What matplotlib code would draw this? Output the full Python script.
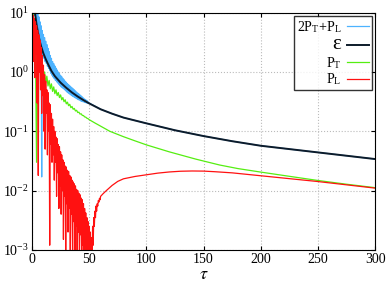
import matplotlib
matplotlib.use("Agg")
import matplotlib.pyplot as plt

# --- data (log-scale values) ---

# energy density, smooth
tau_eps = [2.5, 3, 4, 5, 6, 7, 8, 10, 12, 14, 17, 20, 25, 30, 35, 40, 45, 50, 60, 70,
           80, 100, 125, 150, 175, 200, 250, 300]
eps = [10.5, 8.7, 6.3, 4.9, 3.9, 3.2, 2.7, 2.05, 1.65, 1.36, 1.04, 0.85, 0.66, 0.54, 0.45,
       0.385, 0.335, 0.295, 0.235, 0.198, 0.17, 0.136, 0.104, 0.083, 0.068, 0.057, 0.044, 0.034]

# 2PT+PL, oscillating early times, tau = 0, 0.5, 1, ... 50
tau_sum_osc = [i * 0.5 for i in range(101)]
sum_osc = [12, 12, 12, 12, 12, 9.0, 12, 6.0, 11, 4.5,          # 0 - 4.5
           9.5, 3.5, 8.5, 3.0, 7.0, 2.5, 6.0, 0.017, 5.0, 2.0,  # 5 - 9.5
           4.3, 1.7, 3.8, 1.5, 3.3, 1.4, 2.9, 1.25, 2.5, 1.15,  # 10 - 14.5
           2.2, 1.05, 1.9, 0.95, 1.7, 0.88, 1.5, 0.82, 1.38, 0.77,  # 15 - 19.5
           1.26, 0.72, 1.16, 0.68, 1.08, 0.65, 1.0, 0.62, 0.94, 0.59,  # 20 - 24.5
           0.88, 0.56, 0.83, 0.54, 0.78, 0.52, 0.74, 0.50, 0.70, 0.48,  # 25 - 29.5
           0.67, 0.46, 0.64, 0.445, 0.61, 0.43, 0.585, 0.415, 0.56, 0.40,  # 30 - 34.5
           0.54, 0.39, 0.52, 0.38, 0.50, 0.37, 0.48, 0.36, 0.46, 0.35,  # 35 - 39.5
           0.44, 0.34, 0.425, 0.335, 0.41, 0.325, 0.395, 0.32, 0.38, 0.315,  # 40 - 44.5
           0.365, 0.31, 0.35, 0.305, 0.34, 0.30, 0.33, 0.297, 0.315, 0.294,  # 45 - 49.5
           0.30]

# transverse pressure, tau = 0, 1, 2, ... 50
tau_pt_osc = list(range(0, 51))
pt_osc = [12, 10, 6, 2.5, 0.03, 2.2, 1.0, 1.6, 0.9, 1.2,
          0.75, 1.0, 0.65, 0.85, 0.58, 0.72, 0.52, 0.63, 0.47, 0.56,
          0.43, 0.50, 0.40, 0.45, 0.37, 0.41, 0.34, 0.37, 0.315, 0.34,
          0.29, 0.31, 0.27, 0.285, 0.25, 0.262, 0.235, 0.243, 0.22, 0.226,
          0.207, 0.21, 0.195, 0.197, 0.185, 0.184, 0.175, 0.173, 0.166, 0.163,
          0.157]

# longitudinal pressure, tau = 0, 0.5, 1, ... 60
tau_pl_osc = [i * 0.5 for i in range(121)]
pl_osc = [10, 3.0, 9.0, 1.5, 8.0, 0.8, 7.0, 2.0, 6.0, 0.3,          # 0 - 4.5
          5.0, 0.018, 4.2, 1.0, 3.4, 0.5, 2.6, 0.2, 1.9, 0.4,        # 5 - 9.5
          1.3, 0.1, 0.9, 0.05, 0.7, 0.2, 0.5, 0.04, 0.45, 0.1,       # 10 - 14.5
          0.3, 0.0012, 0.28, 0.06, 0.2, 0.03, 0.16, 0.04, 0.12, 0.015,  # 15 - 19.5
          0.1, 0.03, 0.08, 0.008, 0.075, 0.02, 0.06, 0.005, 0.055, 0.012,  # 20 - 24.5
          0.045, 0.004, 0.04, 0.01, 0.033, 0.0015, 0.03, 0.008, 0.026, 0.0008,  # 25 - 29.5
          0.025, 0.006, 0.022, 0.002, 0.021, 0.005, 0.018, 0.0008, 0.017, 0.004,  # 30 - 34.5
          0.015, 0.0007, 0.014, 0.003, 0.013, 0.0009, 0.012, 0.0025, 0.0105, 0.0006,  # 35 - 39.5
          0.01, 0.002, 0.009, 0.0005, 0.0085, 0.0018, 0.0075, 0.0007, 0.007, 0.0012,  # 40 - 44.5
          0.006, 0.0005, 0.005, 0.001, 0.0042, 0.0004, 0.0035, 0.0008, 0.003, 0.0004,  # 45 - 49.5
          0.0025, 0.0006, 0.002, 0.0004, 0.0016, 0.0008, 0.0025, 0.0012, 0.0035, 0.0025,  # 50 - 54.5
          0.0045, 0.0035, 0.0055, 0.0045, 0.006, 0.0055, 0.0068, 0.0064, 0.0074, 0.007,  # 55 - 59.5
          0.008]

# late times, smooth
tau_pt_late = [55, 60, 68, 80, 90, 100, 120, 143, 164, 180, 200, 225, 250, 275, 300]
pt_late = [0.138, 0.122, 0.10, 0.081, 0.069, 0.059, 0.045, 0.034, 0.027, 0.0235, 0.0205,
           0.0174, 0.0148, 0.0128, 0.0112]

tau_pl_late = [62, 65, 70, 75, 80, 90, 100, 110, 120, 130, 140, 150, 160, 175, 200,
               225, 250, 275, 300]
pl_late = [0.0088, 0.0100, 0.0122, 0.0143, 0.0158, 0.0173, 0.0185, 0.0197, 0.0206, 0.0212,
           0.0214, 0.0213, 0.0208, 0.0199, 0.0178, 0.0159, 0.0142, 0.0125, 0.011]

plt.rcParams["font.family"] = ["Liberation Serif", "DejaVu Serif"]
plt.rcParams["mathtext.fontset"] = "stix"

fig = plt.figure(figsize=(3.9, 2.94), dpi=100)
ax = fig.add_axes([0.082, 0.15, 0.88, 0.807])

# 2PT+PL: oscillating part, then follows epsilon
late_eps = [(t, e) for t, e in zip(tau_eps, eps) if t > 50]
tau_sum = tau_sum_osc + [t for t, _ in late_eps]
sum_vals = sum_osc + [e for _, e in late_eps]

ax.plot(tau_sum, sum_vals, color="#4db3ff", lw=0.9, label=r"2P$_\mathregular{T}$+P$_\mathregular{L}$")
ax.plot(tau_eps, eps, color="#0d1b2a", lw=1.4, label="ε")
ax.plot(tau_pt_osc + tau_pt_late, pt_osc + pt_late, color="#55ee11", lw=0.9,
        label=r"P$_\mathregular{T}$")
ax.plot(tau_pl_osc + tau_pl_late, pl_osc + pl_late, color="#ff1111", lw=0.9,
        label=r"P$_\mathregular{L}$")

ax.set_yscale("log")
ax.set_xlim(0, 300)
ax.set_ylim(1e-3, 1e1)
ax.set_xticks([0, 50, 100, 150, 200, 250, 300])
ax.minorticks_off()
ax.tick_params(direction="in", length=3, top=True, right=True, labelsize=10, pad=2)
ax.grid(True, color="#bbbbbb", linestyle=":", linewidth=0.8)
ax.set_xlabel(r"$\tau$", fontsize=13, labelpad=0)

leg = ax.legend(loc="upper right", bbox_to_anchor=(0.99, 0.985), markerfirst=False,
                fontsize=10, frameon=True, fancybox=False, edgecolor="black",
                handlelength=1.6, handletextpad=0.4, borderpad=0.2, labelspacing=0.05,
                borderaxespad=0.0)
leg.get_frame().set_linewidth(1.0)
texts = leg.get_texts()
texts[1].set_fontsize(15)

fig.savefig("out.png", dpi=100)
